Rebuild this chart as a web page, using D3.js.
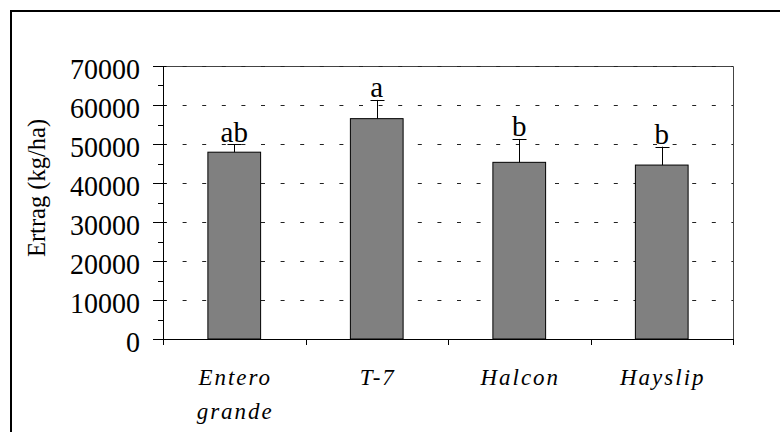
<!DOCTYPE html>
<html>
<head>
<meta charset="utf-8">
<script src="https://cdn.jsdelivr.net/npm/d3@7"></script>
<style>
  html, body { margin: 0; padding: 0; background: #fff; }
  svg { display: block; }
</style>
</head>
<body>
<svg id="chart" width="780" height="432"></svg>
<script>
// ---- data ----
const categories = ["Entero grande", "T-7", "Halcon", "Hayslip"];
const categoryLines = [["Entero", "grande"], ["T-7"], ["Halcon"], ["Hayslip"]];
const values = [47900, 56500, 45300, 44600];
const errors = [2000, 4800, 6000, 4700];
const letters = ["ab", "a", "b", "b"];
const yTicks = [0, 10000, 20000, 30000, 40000, 50000, 60000, 70000];
const yMinorTicks = [5000, 15000, 25000, 35000, 45000, 55000, 65000];
const yTitle = "Ertrag (kg/ha)";

// ---- layout ----
const FONT = "'Liberation Serif', 'Times New Roman', Times, serif";
const svg = d3.select("#chart").attr("font-family", FONT);
const L = 163, R = 733, T = 66, B = 339;

const y = d3.scaleLinear().domain([0, 70000]).range([B, T]);
const x = d3.scaleBand().domain(categories).range([L, R]).paddingInner(0.63).paddingOuter(0.315);
const xCat = d3.scaleBand().domain(categories).range([L, R]).padding(0);

// outer frame
svg.append("rect").attr("x", 11).attr("y", 11).attr("width", 820).attr("height", 500)
  .attr("fill", "none").attr("stroke", "#000").attr("stroke-width", 2);

// plot border (top and right)
svg.append("path").attr("d", `M${L},${T + 0.5}H${R + 0.5}V${B}`)
  .attr("fill", "none").attr("stroke", "#444").attr("stroke-width", 1);

// gridlines
svg.append("g").selectAll("line").data(yTicks.filter(d => d > 0)).join("line")
  .attr("x1", L).attr("x2", R)
  .attr("y1", d => Math.round(y(d)) + 0.5).attr("y2", d => Math.round(y(d)) + 0.5)
  .attr("stroke", "#222").attr("stroke-width", 1).attr("stroke-dasharray", "4,15.6");

// bars
svg.append("g").selectAll("rect").data(categories).join("rect")
  .attr("x", d => x(d))
  .attr("y", (d, i) => y(values[i]))
  .attr("width", x.bandwidth())
  .attr("height", (d, i) => B - y(values[i]))
  .attr("fill", "#808080").attr("stroke", "#000").attr("stroke-width", 1);

// error bars (upper only)
const eb = svg.append("g").attr("stroke", "#000").attr("stroke-width", 1);
categories.forEach((c, i) => {
  const cx = Math.round(x(c) + x.bandwidth() / 2) + 0.5;
  eb.append("line").attr("x1", cx).attr("x2", cx)
    .attr("y1", y(values[i])).attr("y2", y(values[i] + errors[i]));
  eb.append("line").attr("x1", cx - 7).attr("x2", cx + 7)
    .attr("y1", Math.round(y(values[i] + errors[i])) + 0.5)
    .attr("y2", Math.round(y(values[i] + errors[i])) + 0.5);
});

// significance letters
svg.append("g").selectAll("text").data(categories).join("text")
  .attr("x", d => x(d) + x.bandwidth() / 2)
  .attr("y", (d, i) => y(values[i] + errors[i]) - 2.5)
  .attr("text-anchor", "middle")
  .attr("font-family", FONT)
  .attr("font-size", 29)
  .text((d, i) => letters[i]);

// y axis
const yAxis = svg.append("g");
yAxis.append("line").attr("x1", L + 0.5).attr("x2", L + 0.5).attr("y1", T).attr("y2", B + 6)
  .attr("stroke", "#000");
yAxis.selectAll(".maj").data(yTicks).join("line").attr("class", "maj")
  .attr("x1", L - 10).attr("x2", L + 3)
  .attr("y1", d => Math.round(y(d)) + 0.5).attr("y2", d => Math.round(y(d)) + 0.5)
  .attr("stroke", "#000");
yAxis.selectAll(".min").data(yMinorTicks).join("line").attr("class", "min")
  .attr("x1", L - 5).attr("x2", L)
  .attr("y1", d => Math.round(y(d)) + 0.5).attr("y2", d => Math.round(y(d)) + 0.5)
  .attr("stroke", "#000");
yAxis.selectAll("text").data(yTicks).join("text")
  .attr("x", 140).attr("y", d => y(d) + 12.5)
  .attr("text-anchor", "end").attr("font-size", 28)
  .attr("font-family", FONT)
  .attr("transform", d => `translate(0,${y(d)}) scale(1,1.06) translate(0,${-y(d)})`)
  .text(d => d3.format("d")(d));

// x axis
const xAxis = svg.append("g");
xAxis.append("line").attr("x1", L - 10).attr("x2", R + 0.5).attr("y1", B + 0.5).attr("y2", B + 0.5)
  .attr("stroke", "#000");
const bounds = categories.map(c => xCat(c)).concat([R]);
xAxis.selectAll(".tk").data(bounds).join("line").attr("class", "tk")
  .attr("x1", d => Math.round(d) + 0.5).attr("x2", d => Math.round(d) + 0.5)
  .attr("y1", B).attr("y2", B + 6).attr("stroke", "#000");

const labels = xAxis.selectAll(".cl").data(categories).join("text").attr("class", "cl")
  .attr("text-anchor", "middle")
  .attr("font-family", FONT)
  .attr("font-size", 23).attr("font-style", "italic")
  .attr("letter-spacing", "2px");
labels.each(function(d, i) {
  const t = d3.select(this);
  const cx = x(d) + x.bandwidth() / 2 + 1;
  categoryLines[i].forEach((ln, j) => {
    t.append("tspan").attr("x", cx).attr("y", 385 + j * 34).text(ln);
  });
});

// y title
svg.append("text")
  .attr("transform", "translate(45,188) rotate(-90)")
  .attr("text-anchor", "middle")
  .attr("font-family", FONT)
  .attr("font-size", 24.5)
  .text(yTitle);
</script>
</body>
</html>
